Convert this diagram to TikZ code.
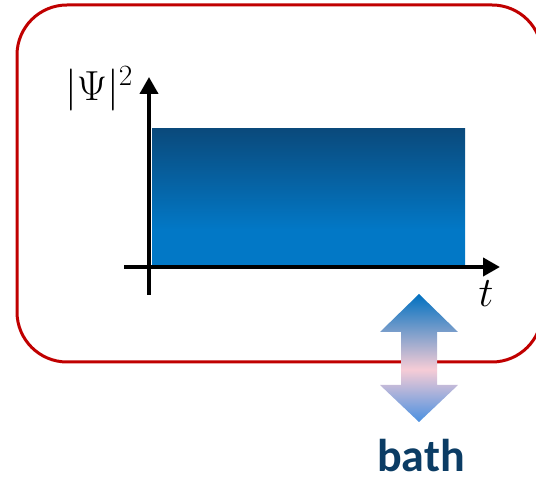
\RequirePackage{fix-cm}
\documentclass[tikz,border=0pt]{standalone}
\usepackage{fontspec}
\newfontfamily\bathfont{Carlito}
\usepackage{amsmath}
\usepackage{tikz}
\usetikzlibrary{positioning,arrows.meta,calc}
\definecolor{frame}    {HTML}{C00000}
\definecolor{ink}      {HTML}{000000}
\definecolor{pulsedark}{HTML}{0A4A7C}
\definecolor{pulselite}{HTML}{0278C6}
\definecolor{bathtop}  {HTML}{0070C0}
\definecolor{bathmid}  {HTML}{F6CCD6}
\definecolor{bathbot}  {HTML}{4A90E0}
\definecolor{bathtext} {HTML}{0B3C64}
\pgfdeclareverticalshading{pulseshade}{100bp}{color(0bp)=(pulselite); color(25bp)=(pulselite);
  color(38bp)=(pulselite); color(75bp)=(pulsedark); color(100bp)=(pulsedark)}
\pgfdeclareverticalshading{bathshade}{100bp}{color(0bp)=(bathbot); color(25bp)=(bathbot);
  color(45.5bp)=(bathmid); color(75bp)=(bathtop); color(100bp)=(bathtop)}
\tikzset{
  % --- boxes
  system/.style = {draw=frame, line width=3pt, rounded corners=50pt},
  pulse/.style  = {shading=pulseshade},
  exch/.style   = {shading=bathshade},
  % --- axes
  axis/.style   = {draw=ink, line width=4pt, -{Triangle[length=17pt,width=18pt]}},
  % --- labels
  lbl/.style    = {font=\fontsize{42}{50}\selectfont, inner sep=0pt},
  bathlbl/.style= {font=\bathfont\bfseries\fontsize{46}{54}\selectfont, text=bathtext, inner sep=0pt},
}
\begin{document}
\begin{tikzpicture}[x=1pt,y=1pt]
  \useasboundingbox (0,0) rectangle (536,478);
  % system box
  \draw[system] (17,473) rectangle (542,116);
  % pulse
  \coordinate (o) at (149,211);
  \path[pulse] (152,213) rectangle (465,349);
  % axes
  \coordinate (xs) at (124,211); \coordinate (xe) at (500,211);
  \coordinate (ys) at (149,183); \coordinate (ye) at (149,401);
  \draw[axis] (xs) -- (xe);
  \draw[axis] (ys) -- (ye);
  \node[lbl] (psi) at (99,389) {$|\Psi|^2$};
  \node[lbl, anchor=base] (t) at (486,171) {$t$};
  % exchange with bath
  \coordinate (up)  at (419,184);
  \coordinate (dn)  at (419,56);
  \path[exch] (up) -- ++(39,-38) -- ++(-21,0) -- ++(0,-53) -- ++(21,0)
    -- (dn) -- ++(-39,37) -- ++(21,0) -- ++(0,53) -- ++(-21,0) -- cycle;
  \node[bathlbl, anchor=base] (bath) at (421,6) {bath};
\end{tikzpicture}
\end{document}
